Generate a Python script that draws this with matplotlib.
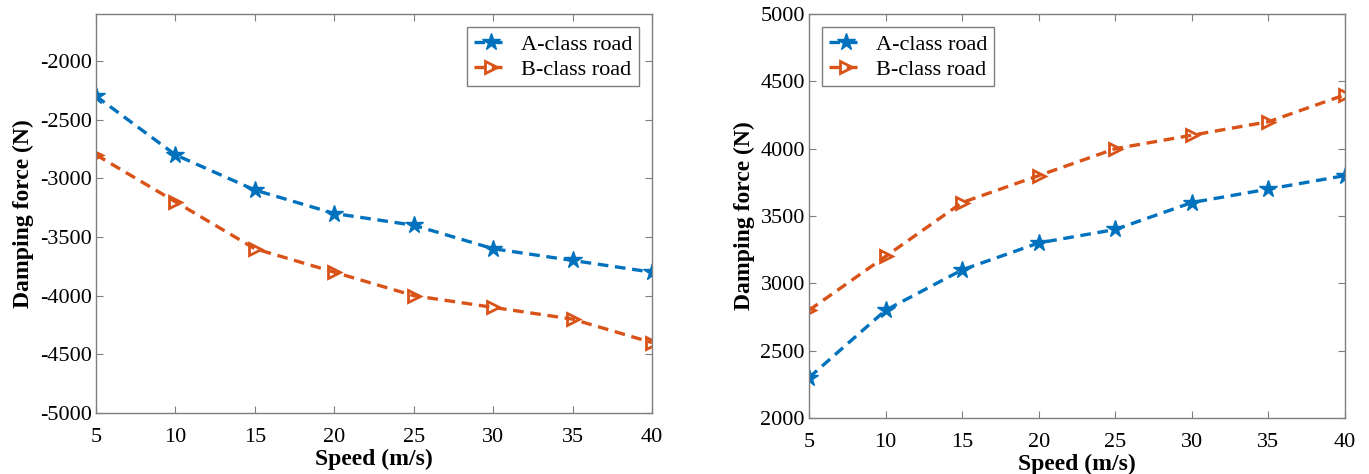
import matplotlib.pyplot as plt
import numpy as np

plt.rcParams['font.family'] = ['Liberation Serif', 'DejaVu Serif']
plt.rcParams['axes.unicode_minus'] = False

speed = [5, 10, 15, 20, 25, 30, 35, 40]
sila_a_lewy = [-2300, -2800, -3100, -3300, -3400, -3600, -3700, -3800]
sila_b_lewy = [-2800, -3200, -3600, -3800, -4000, -4100, -4200, -4400]
sila_a_prawy = [2300, 2800, 3100, 3300, 3400, 3600, 3700, 3800]
sila_b_prawy = [2800, 3200, 3600, 3800, 4000, 4100, 4200, 4400]

niebieski = '#0072BD'
pomarancz = '#D95319'
szary = '#7f7f7f'

fig = plt.figure(figsize=(13.69, 4.74), dpi=100)
ax1 = fig.add_axes([96/1369, 1-413/474, (652-96)/1369, (413-14)/474])
ax2 = fig.add_axes([809/1369, 1-418/474, (1345-809)/1369, (418-14)/474])


def rysuj(ax, a, b, ylim, yticks, legend_loc):
    ax.plot(speed, a, linestyle='--', dashes=(3.2, 2), color=niebieski, lw=2.4,
            marker='*', markersize=13, label='A-class road')
    ax.plot(speed, b, linestyle='--', dashes=(3.2, 2), color=pomarancz, lw=2.4,
            marker='>', markersize=8, markerfacecolor='none', markeredgewidth=2,
            label='B-class road')
    ax.set_xlim(5, 40)
    ax.set_ylim(*ylim)
    ax.set_xticks(speed)
    ax.set_yticks(yticks)
    ax.tick_params(direction='in', top=True, right=True, length=5, width=0.8,
                   color=szary, labelsize=16)
    ax.tick_params(axis='x', pad=11)
    ax.tick_params(axis='y', pad=3)
    for s in ax.spines.values():
        s.set_color(szary)
        s.set_linewidth(1)
    ax.set_xlabel('Speed (m/s)', fontsize=17, fontweight='bold', labelpad=1)
    ax.set_ylabel('Damping force (N)', fontsize=17, fontweight='bold', labelpad=4)
    leg = ax.legend(loc=legend_loc, fontsize=16, fancybox=False, framealpha=1,
                    edgecolor=szary, handlelength=1.5, handletextpad=0.6,
                    borderpad=0.3, labelspacing=0.2, borderaxespad=0.6)
    leg.get_frame().set_linewidth(1)


rysuj(ax1, sila_a_lewy, sila_b_lewy, (-5000, -1600), np.arange(-5000, -1999, 500), 'upper right')
rysuj(ax2, sila_a_prawy, sila_b_prawy, (2000, 5000), np.arange(2000, 5001, 500), 'upper left')

plt.savefig('out.png', dpi=100)
plt.close()
